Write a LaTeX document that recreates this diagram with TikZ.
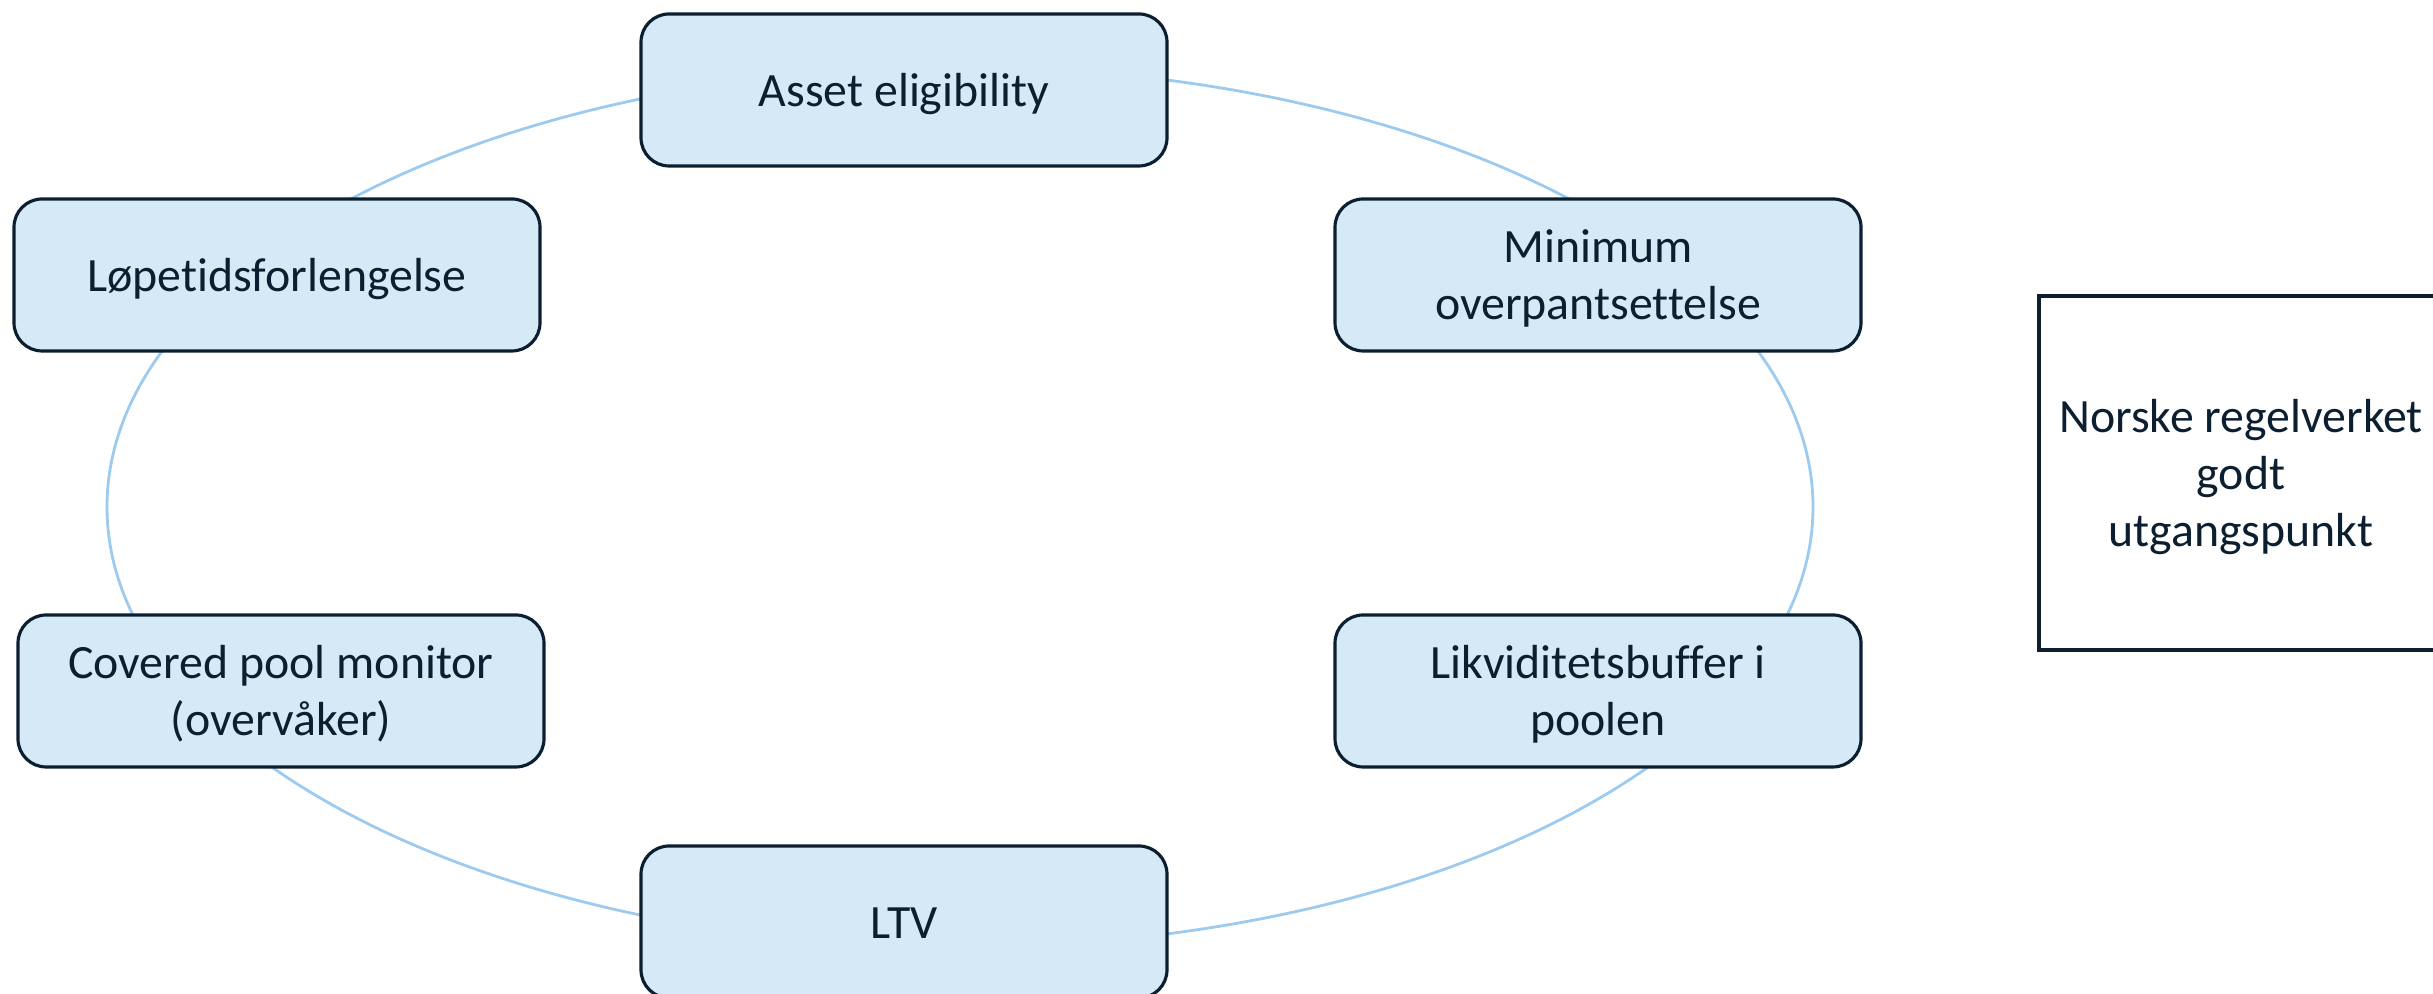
\documentclass[tikz,border=0pt]{standalone}
\usepackage{fontspec}
\setmainfont{Carlito}[Ligatures=NoCommon]
\usepackage{tikz}
\usetikzlibrary{positioning,calc}

\definecolor{ringblue}{HTML}{9DCBF0}
\definecolor{boxfill}{HTML}{D5E9F7}
\definecolor{inkdark}{HTML}{0C1F30}

% line box as PowerPoint sets it: top of first line, foot of last line
\newcommand{\tops}{\rule{0pt}{0.952em}}
\newcommand{\bots}{\rule[-0.269em]{0pt}{0.269em}}

\begin{document}
\begin{tikzpicture}
    % Define styles
    \tikzset{
        label text/.style={text=inkdark, align=center, font=\fontsize{13.6}{16.2}\selectfont},
        topic/.style={label text, draw=inkdark, line width=0.9pt, rounded corners=8pt, fill=boxfill,
            minimum width=5.26cm, minimum height=1.52cm},
        note/.style={label text, draw=inkdark, line width=0.9pt, fill=white,
            minimum width=4.04cm, minimum height=3.54cm},
        ring/.style={draw=ringblue, line width=0.8pt}
    }
    \useasboundingbox (0,0) rectangle (24.33,9.94);

    % Ring behind the boxes
    \coordinate (centre) at (9.6,4.87);
    \draw[ring] (centre) ellipse [x radius=8.53cm, y radius=4.40cm];

    % Place nodes
    \node[topic] (asset) at (9.04,9.04) {\tops Asset eligibility\bots};
    \node[topic] (lopetid) at (2.77,7.19) {\tops Løpetidsforlengelse\bots};
    \node[topic] (minimum) at (15.98,7.19) {\tops Minimum\\overpantsettelse\bots};
    \node[topic] (monitor) at (2.81,3.03) {\tops Covered pool monitor\\(overvåker)\bots};
    \node[topic] (likvid) at (15.98,3.03) {\tops Likviditetsbuffer i\\poolen\bots};
    \node[topic] (ltv) at (9.04,0.72) {\tops LTV\bots};

    % Side note
    \node[note] (norske) at (22.41,5.21) {\tops Norske regelverket\\godt\\utgangspunkt\bots};
\end{tikzpicture}
\end{document}
